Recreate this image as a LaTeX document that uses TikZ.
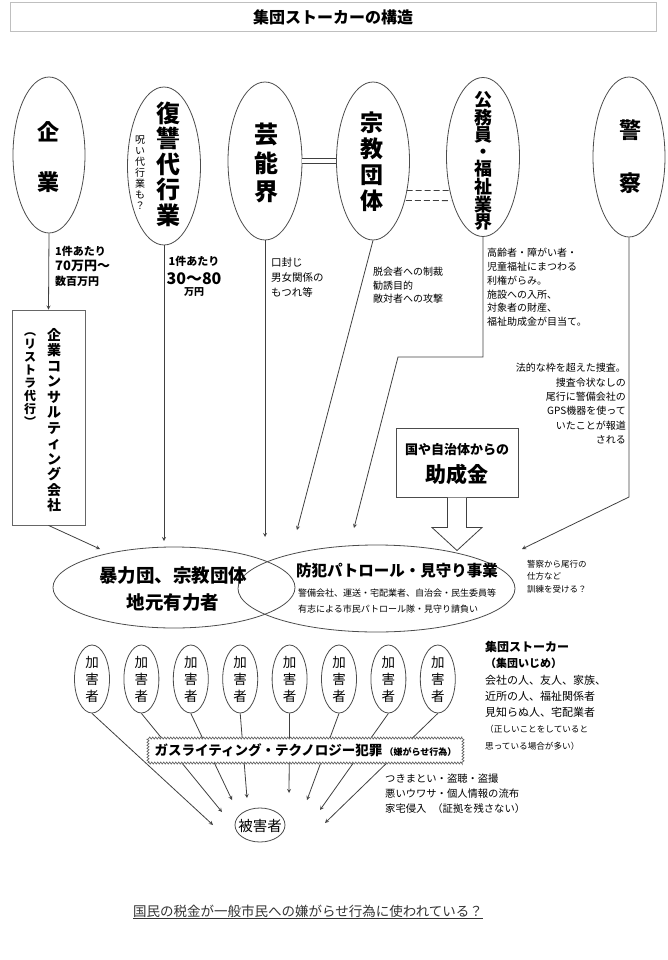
\documentclass[tikz,border=0pt]{standalone}
\usepackage{fontspec}
\setmainfont{Noto Sans CJK JP}
\usetikzlibrary{shapes.geometric,decorations.pathmorphing}

\begin{document}
\begin{tikzpicture}[x=1pt, y=-1pt, >=stealth,
    conn/.style={draw=black!75, line width=0.8pt},
    oval/.style={ellipse, draw=black!70, line width=0.8pt, inner sep=0pt},
    txt/.style 2 args={font=\fontsize{#1}{#2}\selectfont, inner sep=0pt, align=left},
    btxt/.style 2 args={font=\fontsize{#1}{#2}\selectfont\bfseries, inner sep=0pt, align=center}]
    \useasboundingbox (0,0) rectangle (668,960);
    \node[draw=black!25, line width=1pt, minimum width=646, minimum height=29, inner sep=0pt,
      font=\fontsize{16}{16}\selectfont\bfseries] (title) at (333,17.5) {集団ストーカーの構造};

    % top row
    \node[oval, minimum width=72, minimum height=156] (kigyo) at (49,155) {};
    \node[oval, minimum width=73, minimum height=158] (fukushu) at (164,166) {};
    \node[oval, minimum width=74, minimum height=158] (geino) at (265,161) {};
    \node[oval, minimum width=73, minimum height=158] (shukyo) at (373,161) {};
    \node[oval, minimum width=73, minimum height=159] (komuin) at (483,157) {};
    \node[oval, minimum width=72, minimum height=160] (keisatsu) at (629,157) {};
    \node[btxt={22}{50}] (kigyo-t) at (48,157) {企\\業};
    \node[btxt={24}{25.5}] (fukushu-t) at (168,164) {復\\讐\\代\\行\\業};
    \node[txt={10}{11}, align=center] (fukushu-s) at (140,173) {呪\\い\\代\\行\\業\\も\\？};
    \node[btxt={24}{28.5}] (geino-t) at (266,163) {芸\\能\\界};
    \node[btxt={23}{26}] (shukyo-t) at (372,162) {宗\\教\\団\\体};
    \node[btxt={18}{17}] (komuin-t) at (483,161) {公\\務\\員\\・\\福\\祉\\業\\界};
    \node[btxt={22}{53}] (keisatsu-t) at (630,157) {警\\察};
    \draw[conn, double, double distance=4pt] (geino) -- (shukyo);
    \draw[conn, dash pattern=on 6pt off 3pt] ([yshift=3pt]shukyo.-44) -- ([yshift=3pt]komuin.-132);
    \draw[conn, dash pattern=on 6pt off 3pt] ([yshift=-3pt]shukyo.-48) -- ([yshift=-3pt]komuin.-128);

    \node[btxt={11}{15}, align=left, anchor=north west] (kigyo-l) at (55,246)
      {1件あたり\\{\fontsize{13}{15}\selectfont 70万円〜}\\数百万円};
    \node[btxt={11}{15}, anchor=north] (fukushu-l) at (194,256)
      {1件あたり\\[4pt]{\fontsize{16}{17}\selectfont 30〜80}\\[-4pt]{\fontsize{10}{11}\selectfont 万円}};
    \node[txt={10.5}{15}, anchor=north west] (geino-l) at (271,257) {口封じ\\男女関係の\\もつれ等};
    \node[txt={10}{13.5}, anchor=north west] (shukyo-l) at (373,267) {脱会者への制裁\\勧誘目的\\敵対者への攻撃};
    \node[txt={10}{13.8}, anchor=north west] (komuin-l) at (487,248)
      {高齢者・障がい者・\\児童福祉にまつわる\\利権がらみ。\\施設への入所、\\対象者の財産、\\福祉助成金が目当て。};
    \node[txt={10}{14.4}, align=right, anchor=north east] (keisatsu-l) at (626,363)
      {法的な枠を超えた捜査。\\捜査令状なしの\\尾行に警備会社の\\GPS機器を使って\\いたことが報道\\される};

    % consulting box and subsidy box
    \node[draw=black!60, line width=0.8pt, minimum width=73, minimum height=215, inner sep=0pt] (consul) at (48.5,417.5) {};
    \node[btxt={14}{15.5}] (consul-t1) at (54,420) {企\\業\\コ\\ン\\サ\\ル\\テ\\ィ\\ン\\グ\\会\\社};
    \node[btxt={12}{13}] (consul-t2) at (30,380) {︵\\リ\\ス\\ト\\ラ\\代\\行\\︶};
    \node[draw=black!70, line width=1pt, minimum width=122, minimum height=69, inner sep=0pt] (josei) at (457,462.5) {};
    \node[btxt={13}{25}] (josei-t) at (457,464) {国や自治体からの\\[3pt]{\fontsize{21}{25}\selectfont 助成金}};
    \draw[conn, fill=white] ([xshift=-9.5pt]josei.south) -- ++(0,30) -- ++(-15.5,0) -- ++(25,23)
      -- ++(25,-23) -- ++(-15.5,0) -- ++(0,-30);

    % middle
    \node[oval, minimum width=242, minimum height=81] (boryoku) at (174,587.5) {};
    \node[oval, minimum width=277, minimum height=87] (bohan) at (376.5,588.5) {};
    \node[btxt={18.5}{27}] (boryoku-t) at (173,589.5) {暴力団、宗教団体\\地元有力者};
    \node[btxt={15.5}{16}] (bohan-t) at (397,571) {防犯パトロール・見守り事業};
    \node[txt={9}{16}, anchor=north west] (bohan-l) at (298,588.5)
      {警備会社、運送・宅配業者、自治会・民生委員等\\有志による市民パトロール隊・見守り請負い};
    \node[txt={8.5}{12.5}, anchor=north west] (keisatsu-s) at (527,560) {警察から尾行の\\仕方など\\訓練を受ける？};

    \coordinate (consul-end) at (100,549);
    \coordinate (fukushu-end) at (164,541);
    \coordinate (geino-end) at (265,537);
    \coordinate (shukyo-end) at (297,530);
    \coordinate (komuin-b1) at (483,357);
    \coordinate (komuin-b2) at (398,357);
    \coordinate (komuin-end) at (354,528);
    \coordinate (keisatsu-b) at (629,497);
    \coordinate (keisatsu-end) at (522,549);
    \draw[conn, ->] (kigyo.south) -- (consul.north);
    \draw[conn, ->] (consul.south) -- (consul-end);
    \draw[conn, ->] (fukushu.south) -- (fukushu-end);
    \draw[conn, ->] (geino.south) -- (geino-end);
    \draw[conn, ->] (shukyo.south) -- (shukyo-end);
    \draw[conn, ->] (komuin.south) -- (komuin-b1) -- (komuin-b2) -- (komuin-end);
    \draw[conn, ->] (keisatsu.south) -- (keisatsu-b) -- (keisatsu-end);

    % perpetrators
    \foreach \i in {1,...,8}
      \node[oval, minimum width=35, minimum height=68, font=\fontsize{13.5}{17}\selectfont, align=center]
        (k\i) at ({92+49.4*(\i-1)},679) {加\\害\\者};
    \node[oval, minimum width=50, minimum height=34] (victim) at (260,825) {};
    \node[txt={14.5}{14}] (victim-t) at (260,826) {被害者};
    \foreach \i/\ex/\ey in {1/213/825, 2/222/812, 3/232/800, 4/247/798, 5/289/793, 6/307/800, 7/320/810, 8/325/823} {
      \coordinate (t\i) at (\ex,\ey);
      \draw[conn, ->] (k\i.south) -- (t\i);
    }
    \node[draw=black!60, line width=0.7pt, fill=white, decorate, decoration={zigzag, segment length=3pt, amplitude=1pt},
      minimum width=315, minimum height=25, inner sep=0pt] (gas) at (305.5,750.5)
      {\fontsize{13.5}{14}\selectfont\bfseries ガスライティング・テクノロジー犯罪\,{\fontsize{9}{10}\selectfont （嫌がらせ行為）}};

    \node[txt={11}{16.3}, anchor=north west] (stalker-l) at (485,641)
      {{\fontsize{12}{14}\selectfont\bfseries 集団ストーカー}\\{\bfseries （集団いじめ）}\\会社の人、友人、家族、\\近所の人、福祉関係者\\見知らぬ人、宅配業者\\{\fontsize{8.6}{10}\selectfont （正しいことをしていると}\\{\fontsize{8.6}{10}\selectfont 思っている場合が多い）}};
    \node[txt={10.3}{15}, anchor=north west] (higai-l) at (385,774)
      {つきまとい・盗聴・盗撮\\悪いウワサ・個人情報の流布\\家宅侵入\hspace{6pt}（証拠を残さない）};
    \node[txt={13.5}{14}, anchor=west, text=black!80] (tax) at (133,912)
      {\underline{国民の税金が一般市民への嫌がらせ行為に使われている？}};
\end{tikzpicture}
\end{document}
